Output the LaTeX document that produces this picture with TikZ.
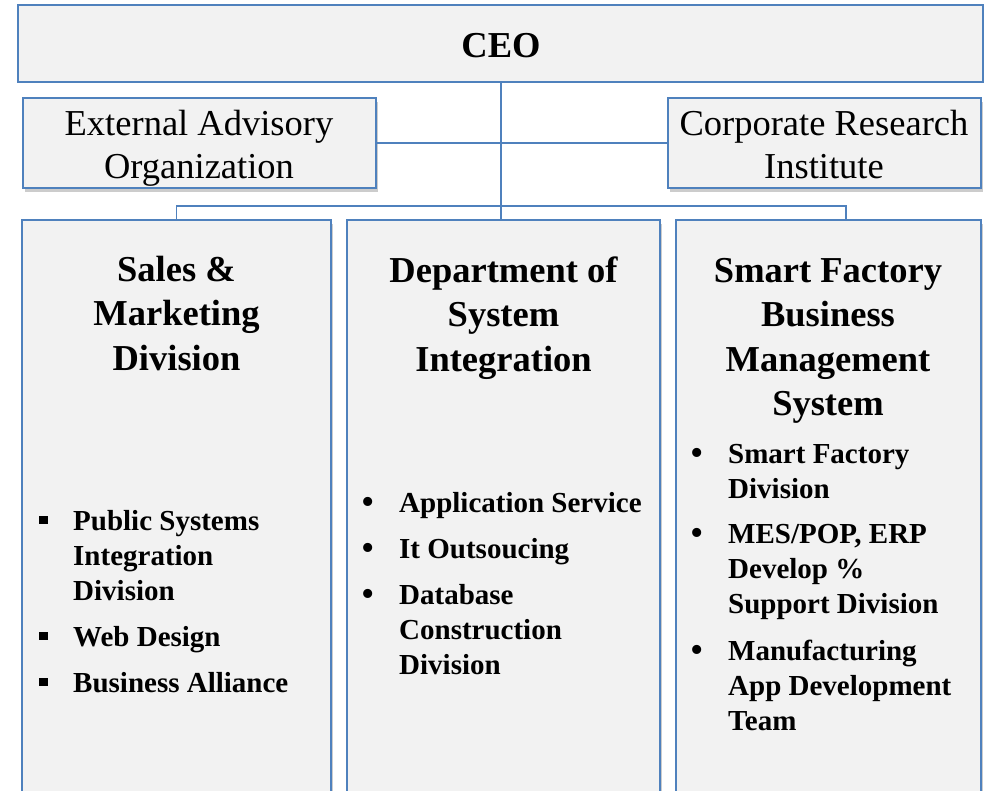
\documentclass[tikz,border=0pt]{standalone}
\usepackage{fontspec}
\setmainfont{Liberation Serif}
\usetikzlibrary{shadows}
\definecolor{boxline}{RGB}{79,129,189}
\definecolor{boxfill}{RGB}{242,242,242}
\begin{document}
\begin{tikzpicture}[x=1pt,y=-1pt,
  orgbox/.style={draw=boxline,line width=2pt,fill=boxfill,rectangle,inner sep=0pt},
  shadowbox/.style={orgbox,drop shadow={opacity=0.4,shadow xshift=2pt,shadow yshift=-4pt}},
  conn/.style={draw=boxline,line width=1.8pt},
  titletext/.style={font=\fontsize{36.5}{44.5}\selectfont\bfseries,align=flush center,anchor=base,inner sep=0pt,text width=300pt},
  sidetext/.style={font=\fontsize{36.5}{43}\selectfont,align=flush center,anchor=base,inner sep=0pt,text width=320pt},
  itemtext/.style={font=\fontsize{29}{35}\selectfont\bfseries,align=flush left,anchor=base west,inner sep=0pt,text width=250pt},
  dotbullet/.style={font=\fontsize{38}{35}\selectfont,anchor=base,inner sep=0pt}
]
\clip (0,0) rectangle (988,790);
\fill[white] (0,0) rectangle (988,790);
% boxes
\node[orgbox,minimum width=965pt,minimum height=77pt] (ceo) at (500.5,43.5) {};
\node[shadowbox,minimum width=353pt,minimum height=90pt] (ext) at (199.5,143) {};
\node[shadowbox,minimum width=313pt,minimum height=90pt] (corp) at (824.5,143) {};
\node[shadowbox,minimum width=309pt,minimum height=600pt] (left) at (176.5,520) {};
\node[shadowbox,minimum width=313pt,minimum height=600pt] (mid) at (503.5,520) {};
\node[shadowbox,minimum width=305pt,minimum height=600pt] (right) at (828.5,520) {};
% connectors
\coordinate (bl) at (176.5,206);
\coordinate (br) at (846,206);
\coordinate (ct) at (501,82);
\draw[conn] (ext.east) -- (corp.west);
\draw[conn] (left.north) -- (bl) -- (br) -- (br |- right.north);
\draw[conn] (ct) -- (ct |- mid.north);
% texts
\node[titletext] (ceot) at (501,57) {CEO};
\node[sidetext] (extt) at (199,135) {External Advisory\\Organization};
\node[sidetext] (corpt) at (824,135) {Corporate Research\\Institute};
\node[titletext] (lt) at (176.5,281) {Sales \&\\Marketing\\Division};
\node[titletext] (mt) at (503.5,282) {Department of\\System\\Integration};
\node[titletext] (rt) at (828,282) {Smart Factory\\Business\\Management\\System};
% left items
\node[inner sep=0pt] (lb1) at (43.5,520) {\rule{8.5pt}{8.5pt}};
\node[inner sep=0pt] (lb2) at (43.5,636) {\rule{8.5pt}{8.5pt}};
\node[inner sep=0pt] (lb3) at (43.5,682) {\rule{8.5pt}{8.5pt}};
\node[itemtext] (li1) at (73,530) {Public Systems\\Integration\\Division};
\node[itemtext] (li2) at (73,646) {Web Design};
\node[itemtext] (li3) at (73,692) {Business Alliance};
% middle items
\node[dotbullet] (mb1) at (368.5,514) {•};
\node[dotbullet] (mb2) at (368.5,560) {•};
\node[dotbullet] (mb3) at (368.5,606) {•};
\node[itemtext] (mi1) at (399,512) {Application Service};
\node[itemtext] (mi2) at (399,558) {It Outsoucing};
\node[itemtext] (mi3) at (399,604) {Database\\Construction\\Division};
% right items
\node[dotbullet] (rb1) at (697.5,465) {•};
\node[dotbullet] (rb2) at (697.5,545) {•};
\node[dotbullet] (rb3) at (697.5,662) {•};
\node[itemtext] (ri1) at (728,463) {Smart Factory\\Division};
\node[itemtext] (ri2) at (728,543) {MES/POP, ERP\\Develop \%\\Support Division};
\node[itemtext] (ri3) at (728,660) {Manufacturing\\App Development\\Team};
\end{tikzpicture}
\end{document}
